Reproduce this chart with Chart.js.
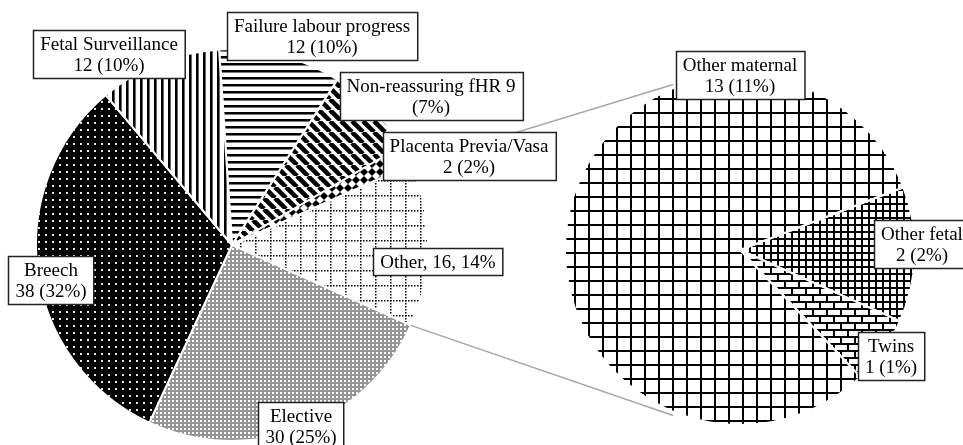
<!DOCTYPE html>
<html>
<head>
<meta charset="utf-8">
<script src="https://cdn.jsdelivr.net/npm/chart.js@4.4.1/dist/chart.umd.min.js"></script>
<style>
html, body { margin: 0; padding: 0; background: #fff; }
#wrap { position: relative; width: 963px; height: 445px; overflow: hidden; }
#wrap canvas { position: absolute; left: 0; top: 0; }
</style>
</head>
<body>
<div id="wrap">
  <canvas id="detail" width="963" height="445"></canvas>
  <canvas id="main" width="963" height="445"></canvas>
</div>
<script>
// first pie, clockwise from 12 o'clock
const mainLabels = ['Failure labour progress', 'Non-reassuring fHR', 'Placenta Previa/Vasa', 'Other', 'Elective', 'Breech', 'Fetal Surveillance'];
const mainValues = [12, 9, 2, 16, 30, 38, 12];
const mainPct = ['10%', '7%', '2%', '14%', '25%', '32%', '10%'];
const splitIndex = 3; // "Other" is broken down in the second pie

// second pie
const detailLabels = ['Other fetal', 'Twins', 'Other maternal'];
const detailValues = [2, 1, 13];
const detailPct = ['2%', '1%', '11%'];

const FONT = '19px "Liberation Serif", "Times New Roman", serif';

function pattern(w, h, bg, draw) {
    const c = document.createElement('canvas');
    c.width = w; c.height = h;
    const g = c.getContext('2d');
    g.fillStyle = bg; g.fillRect(0, 0, w, h);
    g.fillStyle = '#000'; g.strokeStyle = '#000';
    draw(g);
    return g.createPattern(c, 'repeat');
}

const pHLines = pattern(7, 7, '#fff', g => { g.fillRect(0, 0, 7, 2); g.fillStyle = '#777'; g.fillRect(0, 2, 7, 1); });
const pVLines = pattern(7, 7, '#fff', g => { g.fillRect(0, 0, 2, 7); g.fillStyle = '#666'; g.fillRect(2, 0, 1, 7); });
const pDiag = pattern(11, 11, '#fff', g => {
    g.lineWidth = 4.6;
    [-11, 0, 11].forEach(o => { g.beginPath(); g.moveTo(o, 0); g.lineTo(o + 11, 11); g.stroke(); });
});
const pDiamond = pattern(8, 8, '#fff', g => {
    g.beginPath(); g.moveTo(4, 0); g.lineTo(8, 4); g.lineTo(4, 8); g.lineTo(0, 4); g.closePath(); g.fill();
});
const pDotGrid = pattern(15, 15, '#fff', g => {
    for (let i = 0; i < 15; i += 3) { g.fillRect(i, 0, 1.5, 1.5); g.fillRect(0, i, 1.5, 1.5); }
});
const pElective = pattern(4, 4, '#959595', g => { g.fillStyle = '#fff'; g.fillRect(0, 0, 2, 2); });
const pBreech = pattern(7, 7, '#000', g => { g.fillStyle = '#e6e6e6'; g.fillRect(3, 3, 2, 2); });
const pBigGrid = pattern(14, 14, '#fff', g => { g.fillRect(0, 0, 14, 2); g.fillRect(0, 0, 2, 14); });
const pSmallGrid = pattern(7, 7, '#fff', g => { g.fillRect(0, 0, 7, 2); g.fillRect(0, 0, 2, 7); });
const pBrick = pattern(14, 14, '#fff', g => {
    g.fillRect(0, 0, 14, 2); g.fillRect(0, 7, 14, 2);
    g.fillRect(0, 0, 2, 7); g.fillRect(7, 7, 2, 7);
});

// label text
const mainText = mainLabels.map((name, i) => {
    const v = mainValues[i], p = mainPct[i];
    if (i === 1) return [name + ' ' + v, '(' + p + ')'];
    if (i === splitIndex) return [name + ', ' + v + ', ' + p];
    return [name, v + ' (' + p + ')'];
});
const detailText = detailLabels.map((name, i) => [name, detailValues[i] + ' (' + detailPct[i] + ')']);

// label box centres, offset from the pie centre
const mainLabelPos = [[90, -209], [199, -149], [237, -89], [206, 16], [69, 181], [-181, 35], [-123, -191]];
const detailLabelPos = [[182, -6], [151, 106], [0, -175]];

function boxLabels(text, pos) {
    return {
        id: 'boxLabels',
        afterDraw(chart) {
            const ctx = chart.ctx;
            const arcs = chart.getDatasetMeta(0).data;
            ctx.save();
            ctx.font = FONT;
            ctx.textAlign = 'center';
            ctx.textBaseline = 'middle';
            arcs.forEach((arc, i) => {
                const lines = text[i];
                const cx = arc.x + pos[i][0], cy = arc.y + pos[i][1];
                const w = Math.max(...lines.map(s => ctx.measureText(s).width)) + 14;
                const h = lines.length * 21 + 6;
                const x0 = Math.round(cx - w / 2) + 0.5, y0 = Math.round(cy - h / 2) + 0.5;
                ctx.fillStyle = '#fff';
                ctx.fillRect(x0, y0, w, h);
                ctx.strokeStyle = '#222';
                ctx.lineWidth = 1.5;
                ctx.strokeRect(x0, y0, w, h);
                ctx.fillStyle = '#000';
                lines.forEach((s, k) => ctx.fillText(s, cx, y0 + 3 + 11.5 + k * 21));
            });
            ctx.restore();
        }
    };
}

const total = mainValues.reduce((a, b) => a + b, 0);
const before = mainValues.slice(0, splitIndex).reduce((a, b) => a + b, 0);
const mainRotation = 90 - (before + mainValues[splitIndex] / 2) / total * 360;

const detailChart = new Chart(document.getElementById('detail').getContext('2d'), {
    type: 'pie',
    data: {
        labels: detailLabels,
        datasets: [{
            data: detailValues,
            backgroundColor: [pSmallGrid, pBrick, pBigGrid],
            borderColor: '#fff',
            borderWidth: 2,
            hoverOffset: 0
        }]
    },
    options: {
        responsive: false,
        animation: false,
        devicePixelRatio: 1,
        events: [],
        rotation: 69,
        layout: { padding: { left: 564, right: 47, top: 74, bottom: 19 } },
        plugins: { legend: { display: false }, tooltip: { enabled: false } }
    },
    plugins: [boxLabels(detailText, detailLabelPos)]
});

const connector = {
    id: 'connector',
    afterDatasetsDraw(chart) {
        const arc = chart.getDatasetMeta(0).data[splitIndex];
        const d = detailChart.getDatasetMeta(0).data[0];
        const R = d.outerRadius * 1.02;
        const ctx = chart.ctx;
        ctx.save();
        ctx.strokeStyle = '#a6a6a6';
        ctx.lineWidth = 1.4;
        [[arc.startAngle, -112], [arc.endAngle, 112]].forEach(([a, b]) => {
            const rb = b * Math.PI / 180;
            ctx.beginPath();
            ctx.moveTo(arc.x + arc.outerRadius * Math.cos(a), arc.y + arc.outerRadius * Math.sin(a));
            ctx.lineTo(d.x + R * Math.cos(rb), d.y + R * Math.sin(rb));
            ctx.stroke();
        });
        ctx.restore();
    }
};

const mainChart = new Chart(document.getElementById('main').getContext('2d'), {
    type: 'pie',
    data: {
        labels: mainLabels,
        datasets: [{
            data: mainValues,
            backgroundColor: [pHLines, pDiag, pDiamond, pDotGrid, pElective, pBreech, pVLines],
            borderColor: '#fff',
            borderWidth: 2,
            hoverOffset: 0
        }]
    },
    options: {
        responsive: false,
        animation: false,
        devicePixelRatio: 1,
        events: [],
        rotation: mainRotation,
        layout: { padding: { left: 35, right: 534, top: 48, bottom: 3 } },
        plugins: { legend: { display: false }, tooltip: { enabled: false } }
    },
    plugins: [connector, boxLabels(mainText, mainLabelPos)]
});
</script>
</body>
</html>
